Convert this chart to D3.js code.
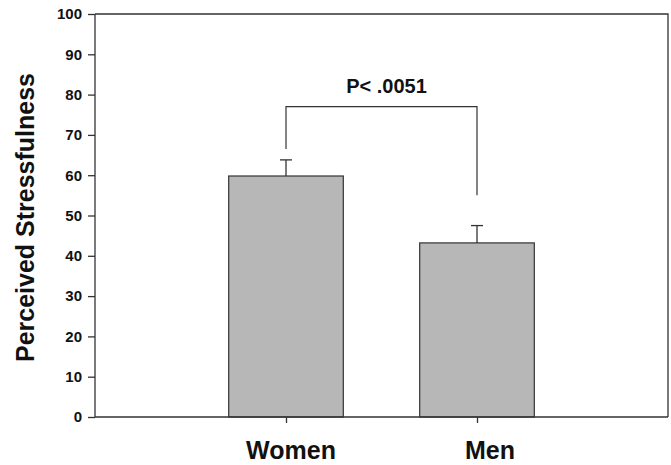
<!DOCTYPE html>
<html>
<head>
<meta charset="utf-8">
<script src="https://cdn.jsdelivr.net/npm/d3@7"></script>
<style>
  body { margin: 0; background: #fff; }
  svg { font-family: "Liberation Sans", Arial, sans-serif; font-weight: bold; }
</style>
</head>
<body>
<svg id="chart" width="671" height="465"></svg>
<script>
var groups = ["Women", "Men"],
    means = [59.8, 43.2],
    errors = [4.0, 4.3],
    yTicks = [0, 10, 20, 30, 40, 50, 60, 70, 80, 90, 100],
    pLabel = "P< .0051",
    bracketTop = 77,
    bracketEnds = [66.5, 55];

var svg = d3.select("#chart"),
    margin = {top: 14, right: 3, bottom: 48, left: 95},
    width = svg.attr("width") - margin.left - margin.right,
    height = svg.attr("height") - margin.top - margin.bottom,
    g = svg.append("g").attr("transform", "translate(" + margin.left + "," + margin.top + ")");

var x = d3.scalePoint()
    .domain(groups)
    .range([0, width])
    .padding(1);

var y = d3.scaleLinear()
    .domain([0, 100])
    .range([height, 0]);

var barW = x.step() * 0.6;

// frame top + right
g.append("path")
    .attr("d", "M0,0H" + width + "V" + height)
    .attr("fill", "none")
    .attr("stroke", "#333")
    .attr("stroke-width", 1.3);

// bars
g.selectAll(".bar")
    .data(groups)
  .enter().append("rect")
    .attr("class", "bar")
    .attr("x", function(d) { return x(d) - barW / 2; })
    .attr("width", barW)
    .attr("y", function(d, i) { return y(means[i]); })
    .attr("height", function(d, i) { return y(0) - y(means[i]); })
    .attr("fill", "#b7b7b7")
    .attr("stroke", "#333")
    .attr("stroke-width", 1.2);

// error bars (upper only)
var eb = g.selectAll(".err").data(groups).enter().append("g").attr("class", "err")
    .attr("stroke", "#333").attr("stroke-width", 1.3);
eb.append("line")
    .attr("x1", function(d) { return x(d); })
    .attr("x2", function(d) { return x(d); })
    .attr("y1", function(d, i) { return y(means[i]); })
    .attr("y2", function(d, i) { return y(means[i] + errors[i]); });
eb.append("line")
    .attr("x1", function(d) { return x(d) - 6; })
    .attr("x2", function(d) { return x(d) + 6; })
    .attr("y1", function(d, i) { return y(means[i] + errors[i]); })
    .attr("y2", function(d, i) { return y(means[i] + errors[i]); });

// significance bracket
g.append("path")
    .attr("d", "M" + x(groups[0]) + "," + y(bracketEnds[0]) +
               "V" + y(bracketTop) +
               "H" + x(groups[1]) +
               "V" + y(bracketEnds[1]))
    .attr("fill", "none")
    .attr("stroke", "#333")
    .attr("stroke-width", 1.2);

g.append("text")
    .attr("x", (x(groups[0]) + x(groups[1])) / 2 + 5)
    .attr("y", y(bracketTop) - 14)
    .attr("text-anchor", "middle")
    .attr("font-size", 20)
    .attr("fill", "#111")
    .text(pLabel);

// axes
var yAxis = g.append("g")
    .call(d3.axisLeft(y).tickValues(yTicks).tickSize(7).tickPadding(6));
yAxis.selectAll("text").attr("font-size", 15).attr("fill", "#111").attr("font-family", null);
yAxis.selectAll("line, path").attr("stroke", "#333").attr("stroke-width", 1.3);
yAxis.select(".domain").attr("d", "M0," + height + "V0");

var xAxis = g.append("g")
    .attr("transform", "translate(0," + height + ")")
    .call(d3.axisBottom(x).tickSize(6).tickFormat(""));
xAxis.selectAll("line, path").attr("stroke", "#333").attr("stroke-width", 1.3);
xAxis.select(".domain").attr("d", "M0,0H" + width);

var labelShift = [5, 13];
g.selectAll(".xlab")
    .data(groups)
  .enter().append("text")
    .attr("class", "xlab")
    .attr("x", function(d, i) { return x(d) + labelShift[i]; })
    .attr("y", height + 42)
    .attr("text-anchor", "middle")
    .attr("font-size", 25)
    .attr("fill", "#111")
    .text(function(d) { return d; });

svg.append("text")
    .attr("transform", "translate(34," + (margin.top + height / 2 + 2) + ") rotate(-90)")
    .attr("text-anchor", "middle")
    .attr("font-size", 25)
    .attr("fill", "#111")
    .text("Perceived Stressfulness");
</script>
</body>
</html>
